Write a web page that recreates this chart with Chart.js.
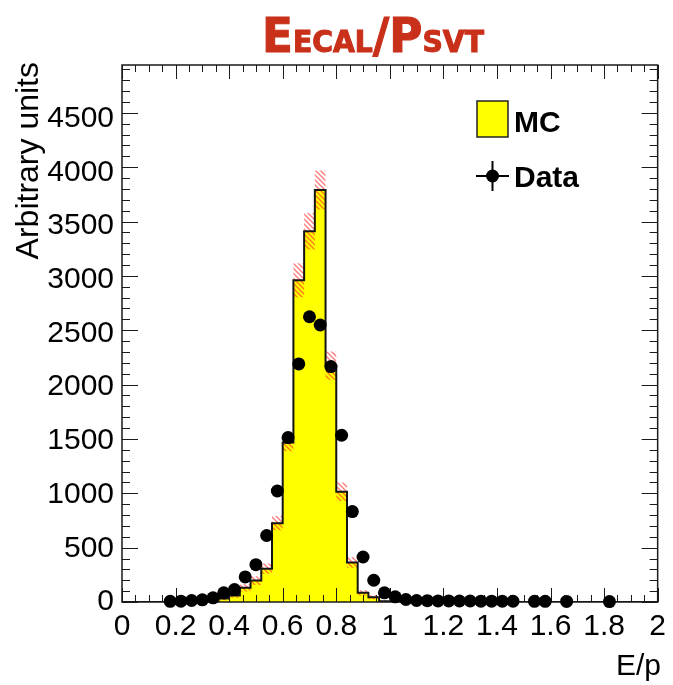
<!DOCTYPE html>
<html>
<head>
<meta charset="utf-8">
<script src="https://cdn.jsdelivr.net/npm/chart.js@4.4.1/dist/chart.umd.min.js"></script>
<style>
  html, body { margin: 0; padding: 0; background: #ffffff; }
  #wrap { width: 673px; height: 685px; position: relative; }
</style>
</head>
<body>
<div id="wrap"><canvas id="c" width="673" height="685"></canvas></div>
<script>
// E/p histogram: 50 bins of width 0.04 between 0 and 2
const xMin = 0;
const binWidth = 0.04;

// Simulation (MC), per bin
const mcValues = [
  0, 0, 0, 0, 0, 0, 0, 3, 12, 32,
  60, 130, 197, 307, 725, 1467, 2960, 3411, 3790, 2175,
  1015, 364, 84, 44, 8, 0, 0, 0, 0, 0,
  0, 0, 0, 0, 0, 0, 0, 0, 0, 0,
  0, 0, 0, 0, 0, 0, 0, 0, 0, 0
];

// MC uncertainty per bin (drawn as a hatched band)
const mcErrors = [
  0, 0, 0, 0, 0, 0, 0, 3, 8, 15,
  22, 33, 40, 48, 65, 80, 156, 168, 180, 130,
  85, 50, 25, 18, 8, 0, 0, 0, 0, 0,
  0, 0, 0, 0, 0, 0, 0, 0, 0, 0,
  0, 0, 0, 0, 0, 0, 0, 0, 0, 0
];

// Data, per bin (null = empty bin)
const dataValues = [
  null, null, null, null, 6, 8, 14, 20, 38, 84,
  114, 231, 343, 612, 1021, 1513, 2190, 2624, 2548, 2166,
  1534, 832, 414, 200, 84, 48, 23, 14, 12, 10,
  10, 9, 9, 8, 8, 7, 7, null, 6, 6,
  null, 5, null, null, null, 4, null, null, null, null
];

const xTickLabels = ['0', '0.2', '0.4', '0.6', '0.8', '1', '1.2', '1.4', '1.6', '1.8', '2'];
const yTickLabels = ['0', '500', '1000', '1500', '2000', '2500', '3000', '3500', '4000', '4500'];

const X_MAX = 2;
const Y_MAX = 4940;

// histogram contour as points at the bin edges; each value is held until the next edge
function stepPoints(values) {
  const pts = values.map((v, i) => ({ x: xMin + i * binWidth, y: v }));
  pts.push({ x: xMin + values.length * binWidth, y: values[values.length - 1] });
  return pts;
}
const mcHi = mcValues.map((v, i) => v + mcErrors[i]);
const mcLo = mcValues.map((v, i) => Math.max(0, v - mcErrors[i]));
const dataPoints = dataValues.map((v, i) => ({ x: xMin + (i + 0.5) * binWidth, y: v }));

// red diagonal hatching for the MC uncertainty band
function hatchPattern() {
  const s = 5;
  const cv = document.createElement('canvas');
  cv.width = s; cv.height = s;
  const g = cv.getContext('2d');
  g.strokeStyle = 'rgba(255, 30, 30, 0.6)';
  g.lineWidth = 1.3;
  g.beginPath();
  g.moveTo(-1, -1); g.lineTo(s + 1, s + 1);
  g.moveTo(-1, s - 1); g.lineTo(1, s + 1);
  g.moveTo(s - 1, -1); g.lineTo(s + 1, 1);
  g.stroke();
  return g.createPattern(cv, 'repeat');
}

const FONT = "'Liberation Sans', Arial, Helvetica, sans-serif";

const rootStyle = {
  id: 'rootStyle',
  afterDatasetDraw(chart, args) {
    if (args.index !== 3) return;
    const ctx = chart.ctx;
    const a = chart.chartArea;
    const xs = chart.scales.x, ys = chart.scales.y;
    ctx.save();
    ctx.strokeStyle = '#1a1a1a';
    ctx.lineWidth = 1;
    ctx.beginPath();
    // x ticks, bottom and top (major every 0.2, minor every 0.05)
    for (let i = 0; i <= 40; i++) {
      const px = Math.round(xs.getPixelForValue(i * 0.05)) + 0.5;
      const len = i % 4 === 0 ? 14 : 7;
      ctx.moveTo(px, a.bottom); ctx.lineTo(px, a.bottom - len);
      ctx.moveTo(px, a.top); ctx.lineTo(px, a.top + len);
    }
    // y ticks, left and right (major every 500, minor every 100)
    for (let i = 0; i * 100 <= Y_MAX; i++) {
      const py = Math.round(ys.getPixelForValue(i * 100)) + 0.5;
      const len = i % 5 === 0 ? 16 : 8;
      ctx.moveTo(a.left, py); ctx.lineTo(a.left + len, py);
      ctx.moveTo(a.right, py); ctx.lineTo(a.right - len, py);
    }
    ctx.stroke();
    ctx.lineWidth = 1.5;
    ctx.strokeRect(a.left, a.top, a.right - a.left, a.bottom - a.top);
    ctx.restore();
  },
  afterDraw(chart) {
    const ctx = chart.ctx;
    ctx.save();

    // axis titles
    ctx.fillStyle = '#000';
    ctx.font = '32px ' + FONT;
    ctx.textBaseline = 'alphabetic';
    ctx.save();
    ctx.translate(38, 62);
    ctx.rotate(-Math.PI / 2);
    ctx.textAlign = 'right';
    ctx.fillText('Arbitrary units', 0, 0);
    ctx.restore();
    ctx.textAlign = 'right';
    ctx.font = '30px ' + FONT;
    ctx.fillText('E/p', 661, 675);

    // legend
    ctx.fillStyle = '#ffff00';
    ctx.fillRect(477, 101, 31, 36);
    ctx.strokeStyle = '#222';
    ctx.lineWidth = 1.5;
    ctx.strokeRect(477, 101, 31, 36);
    ctx.strokeStyle = '#000';
    ctx.lineWidth = 2;
    ctx.beginPath();
    ctx.moveTo(476, 176); ctx.lineTo(509, 176);
    ctx.moveTo(492.5, 161); ctx.lineTo(492.5, 191);
    ctx.stroke();
    ctx.fillStyle = '#000';
    ctx.beginPath();
    ctx.arc(492.5, 176, 6.5, 0, Math.PI * 2);
    ctx.fill();
    ctx.font = 'bold 30px ' + FONT;
    ctx.textAlign = 'left';
    ctx.fillText('MC', 514, 131.5);
    ctx.fillText('Data', 514, 187);

    // title: E_ECAL / P_SVT in small caps
    const big = "bold 48px 'DejaVu Sans Condensed', 'DejaVu Sans', sans-serif";
    const small = "bold 30px 'DejaVu Sans Condensed', 'DejaVu Sans', sans-serif";
    const parts = [['E', big], ['ECAL', small], ['/', big], ['P', big], ['SVT', small]];
    let total = 0;
    const widths = parts.map(([t, f]) => { ctx.font = f; const w = ctx.measureText(t).width; total += w; return w; });
    const left = 262, right = 484;
    const sx = (right - left) / total;
    ctx.fillStyle = '#c9301a';
    ctx.strokeStyle = '#c9301a';
    ctx.lineWidth = 1;
    ctx.textAlign = 'left';
    ctx.save();
    ctx.translate(left, 52);
    ctx.scale(sx, 1);
    let x = 0;
    parts.forEach(([t, f], i) => { ctx.font = f; ctx.fillText(t, x, 0); ctx.strokeText(t, x, 0); x += widths[i]; });
    ctx.restore();

    ctx.restore();
  }
};

const ctx = document.getElementById('c').getContext('2d');
new Chart(ctx, {
  type: 'line',
  data: {
    datasets: [
      { // MC fill
        data: stepPoints(mcValues), stepped: 'before', fill: 'origin',
        backgroundColor: '#ffff00', borderWidth: 0, pointRadius: 0, order: 4
      },
      { // MC band upper edge
        data: stepPoints(mcHi), stepped: 'before', fill: false,
        borderWidth: 0, borderColor: 'rgba(0,0,0,0)', pointRadius: 0, order: 3
      },
      { // MC band lower edge, hatched up to the upper edge
        data: stepPoints(mcLo), stepped: 'before', fill: '-1',
        backgroundColor: hatchPattern(), borderWidth: 0, borderColor: 'rgba(0,0,0,0)', pointRadius: 0, order: 3
      },
      { // MC contour
        data: stepPoints(mcValues), stepped: 'before', fill: false,
        borderColor: '#141414', borderWidth: 2, pointRadius: 0, order: 2
      },
      { // Data
        data: dataPoints, showLine: false, pointRadius: 6.5, pointHoverRadius: 6.5,
        pointBackgroundColor: '#000', pointBorderWidth: 0, clip: false, order: 0
      }
    ]
  },
  options: {
    responsive: false,
    animation: false,
    events: [],
    layout: { padding: { left: 0, right: 13, top: 65, bottom: 0 } },
    plugins: { legend: { display: false }, tooltip: { enabled: false }, title: { display: false } },
    scales: {
      x: {
        type: 'linear', min: 0, max: X_MAX, offset: false,
        grid: { display: false, drawTicks: false }, border: { display: false },
        ticks: {
          stepSize: 0.2, autoSkip: false, maxRotation: 0, padding: 7,
          color: '#000', font: { family: FONT, size: 30 },
          callback: (v) => xTickLabels[Math.round(v / 0.2)]
        },
        afterFit: (s) => { s.height = 83; }
      },
      y: {
        type: 'linear', min: 0, max: Y_MAX,
        grid: { display: false, drawTicks: false }, border: { display: false },
        ticks: {
          stepSize: 500, includeBounds: false, autoSkip: false, padding: 8,
          color: '#000', font: { family: FONT, size: 30 },
          callback: (v) => yTickLabels[Math.round(v / 500)]
        },
        afterFit: (s) => { s.width = 122; }
      }
    }
  },
  plugins: [rootStyle]
});
</script>
</body>
</html>
